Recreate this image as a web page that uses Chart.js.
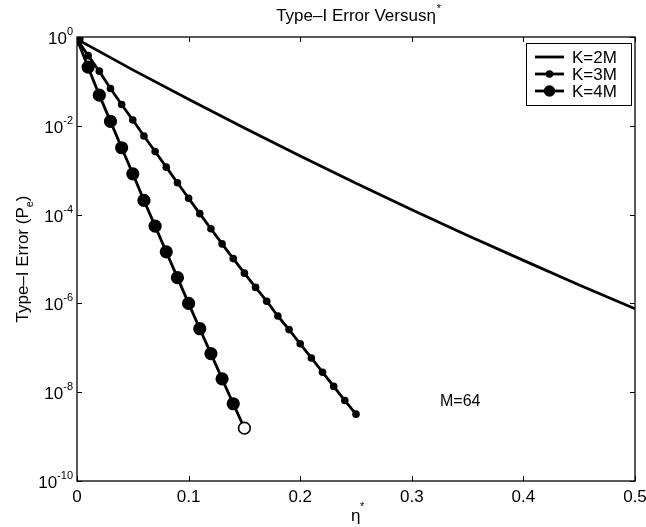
<!DOCTYPE html>
<html>
<head>
<meta charset="utf-8">
<script src="https://cdn.jsdelivr.net/npm/chart.js@4/dist/chart.umd.min.js"></script>
<style>
  html, body { margin: 0; padding: 0; background: #fff; }
  #wrap { width: 646px; height: 527px; }
</style>
</head>
<body>
<div id="wrap"><canvas id="c" width="646" height="527"></canvas></div>
<script>
// η* values for each curve
const etaK2 = [0, 0.05, 0.10, 0.15, 0.20, 0.25, 0.30, 0.35, 0.40, 0.45, 0.50];
const etaK3 = [0, 0.01, 0.02, 0.03, 0.04, 0.05, 0.06, 0.07, 0.08, 0.09, 0.10, 0.11, 0.12,
               0.13, 0.14, 0.15, 0.16, 0.17, 0.18, 0.19, 0.20, 0.21, 0.22, 0.23, 0.24, 0.25];
const etaK4 = [0, 0.01, 0.02, 0.03, 0.04, 0.05, 0.06, 0.07, 0.08, 0.09, 0.10, 0.11, 0.12,
               0.13, 0.14, 0.15];

// Type-I error probability P_e
const peK2 = [0.89, 0.182, 0.0398, 8.9e-3, 2.09e-3, 5.1e-4, 1.29e-4, 3.4e-5, 9.3e-6, 2.6e-6, 7.6e-7];
const peK3 = [0.89, 0.380, 0.170, 0.0692, 0.0302, 0.0135, 5.9e-3, 2.63e-3, 1.17e-3, 5.2e-4,
              2.34e-4, 1.05e-4, 4.8e-5, 2.19e-5, 1.02e-5, 4.8e-6, 2.29e-6, 1.12e-6, 5.2e-7,
              2.57e-7, 1.23e-7, 5.9e-8, 2.82e-8, 1.35e-8, 6.5e-9, 3.2e-9];
const peK4 = [0.89, 0.209, 0.049, 0.0126, 3.2e-3, 8.3e-4, 2.09e-4, 5.5e-5, 1.45e-5, 3.8e-6,
              1.0e-6, 2.69e-7, 7.4e-8, 2.0e-8, 5.5e-9, 1.55e-9];

const seriesNames = ['K=2M', 'K=3M', 'K=4M'];

// axis ticks
const xTicks = [0, 0.1, 0.2, 0.3, 0.4, 0.5];
const xTickLabels = ['0', '0.1', '0.2', '0.3', '0.4', '0.5'];
const yTickExps = [0, -2, -4, -6, -8, -10];

const FONT = '"Liberation Sans", Arial, Helvetica, sans-serif';
const BIG = '17px ' + FONT;
const SMALL = '11px ' + FONT;

const toPts = (xs, ys) => xs.map((x, i) => ({ x: x, y: ys[i] }));

// hollow final marker on the K=4M curve
const k4Fill = peK4.map((v, i) => i === peK4.length - 1 ? '#ffffff' : '#000000');

const framePlugin = {
  id: 'frame',
  beforeDatasetsDraw(chart) {
    const ctx = chart.ctx;
    const a = chart.chartArea;
    const xs = chart.scales.x, ys = chart.scales.y;
    ctx.save();
    ctx.strokeStyle = '#000';
    ctx.lineWidth = 1.3;
    ctx.strokeRect(a.left, a.top, a.right - a.left, a.bottom - a.top);
    // inward tick marks
    ctx.lineWidth = 1;
    ctx.beginPath();
    xTicks.forEach(t => {
      const px = Math.round(xs.getPixelForValue(t)) + 0.5;
      ctx.moveTo(px, a.bottom); ctx.lineTo(px, a.bottom - 5);
      ctx.moveTo(px, a.top); ctx.lineTo(px, a.top + 5);
    });
    yTickExps.forEach(e => {
      const py = Math.round(ys.getPixelForValue(Math.pow(10, e))) + 0.5;
      ctx.moveTo(a.left, py); ctx.lineTo(a.left + 5, py);
      ctx.moveTo(a.right, py); ctx.lineTo(a.right - 5, py);
    });
    ctx.stroke();

    // tick labels
    ctx.fillStyle = '#000';
    ctx.font = BIG;
    ctx.textAlign = 'center';
    ctx.textBaseline = 'top';
    xTicks.forEach((t, i) => {
      ctx.fillText(xTickLabels[i], xs.getPixelForValue(t), a.bottom + 8);
    });
    yTickExps.forEach(e => {
      const py = ys.getPixelForValue(Math.pow(10, e));
      const sup = e === 0 ? '0' : '-' + (-e);
      ctx.font = SMALL;
      const sw = ctx.measureText(sup).width;
      ctx.textAlign = 'right';
      ctx.textBaseline = 'alphabetic';
      const right = a.left - 4;
      ctx.fillText(sup, right, py - 2);
      ctx.font = BIG;
      ctx.fillText('10', right - sw, py + 7);
    });

    // title
    ctx.textBaseline = 'alphabetic';
    ctx.textAlign = 'left';
    ctx.font = BIG;
    const title = 'Type\u2013I Error Versus\u03b7';
    const tw = ctx.measureText(title).width;
    const tx = (a.left + a.right) / 2 - tw / 2;
    ctx.fillText(title, tx, 21);
    ctx.font = SMALL;
    ctx.fillText('*', tx + tw + 1, 12);

    // x-axis title
    ctx.font = BIG;
    const cx = (a.left + a.right) / 2;
    ctx.fillText('\u03b7', cx - 5, 521);
    ctx.font = SMALL;
    ctx.fillText('*', cx + 4, 510);

    // y-axis title
    ctx.save();
    ctx.translate(28, (a.top + a.bottom) / 2);
    ctx.rotate(-Math.PI / 2);
    ctx.font = BIG;
    const yl = 'Type\u2013I Error (P';
    const w1 = ctx.measureText(yl).width;
    ctx.font = SMALL;
    const w2 = ctx.measureText('e').width;
    ctx.font = BIG;
    const w3 = ctx.measureText(')').width;
    const sx = -(w1 + w2 + w3) / 2;
    ctx.textAlign = 'left';
    ctx.fillText(yl, sx, 0);
    ctx.font = SMALL;
    ctx.fillText('e', sx + w1, 5);
    ctx.font = BIG;
    ctx.fillText(')', sx + w1 + w2, 0);
    ctx.restore();

    // annotation
    ctx.font = '16px ' + FONT;
    ctx.textAlign = 'left';
    ctx.fillText('M=64', 440, 406);
    ctx.restore();
  },
  afterDatasetsDraw(chart) {
    const ctx = chart.ctx;
    ctx.save();
    const bx = 526, by = 43, bw = 105, bh = 62;
    ctx.fillStyle = '#fff';
    ctx.fillRect(bx, by, bw, bh);
    ctx.strokeStyle = '#000';
    ctx.lineWidth = 1;
    ctx.strokeRect(bx + 0.5, by + 0.5, bw, bh);
    const rows = [57, 74, 91];
    const radii = [0, 3.8, 5.8];
    ctx.font = BIG;
    ctx.textBaseline = 'middle';
    ctx.textAlign = 'left';
    rows.forEach((ry, i) => {
      ctx.strokeStyle = '#000';
      ctx.lineWidth = 2.8;
      ctx.beginPath();
      ctx.moveTo(535, ry); ctx.lineTo(564, ry);
      ctx.stroke();
      if (radii[i] > 0) {
        ctx.beginPath();
        ctx.arc(549.5, ry, radii[i], 0, Math.PI * 2);
        ctx.fillStyle = '#000';
        ctx.fill();
      }
      ctx.fillStyle = '#000';
      ctx.fillText(seriesNames[i], 572, ry + 1);
    });
    ctx.restore();
  }
};

new Chart(document.getElementById('c'), {
  type: 'line',
  data: {
    datasets: [
      {
        label: seriesNames[0],
        data: toPts(etaK2, peK2),
        borderColor: '#000',
        borderWidth: 2.8,
        pointRadius: 0,
        tension: 0
      },
      {
        label: seriesNames[1],
        data: toPts(etaK3, peK3),
        borderColor: '#000',
        borderWidth: 2.8,
        pointRadius: 3.8,
        pointBackgroundColor: '#000',
        pointBorderColor: '#000',
        pointBorderWidth: 0,
        tension: 0
      },
      {
        label: seriesNames[2],
        data: toPts(etaK4, peK4),
        borderColor: '#000',
        borderWidth: 2.8,
        pointRadius: 5.8,
        pointBackgroundColor: k4Fill,
        pointBorderColor: '#000',
        pointBorderWidth: 1.6,
        tension: 0
      }
    ]
  },
  options: {
    responsive: false,
    animation: false,
    layout: { padding: { left: 77, right: 11, top: 37, bottom: 46 } },
    plugins: { legend: { display: false }, title: { display: false }, tooltip: { enabled: false } },
    scales: {
      x: { type: 'linear', min: 0, max: 0.5, display: false },
      y: { type: 'logarithmic', min: 1e-10, max: 1, display: false }
    }
  },
  plugins: [framePlugin]
});
</script>
</body>
</html>
